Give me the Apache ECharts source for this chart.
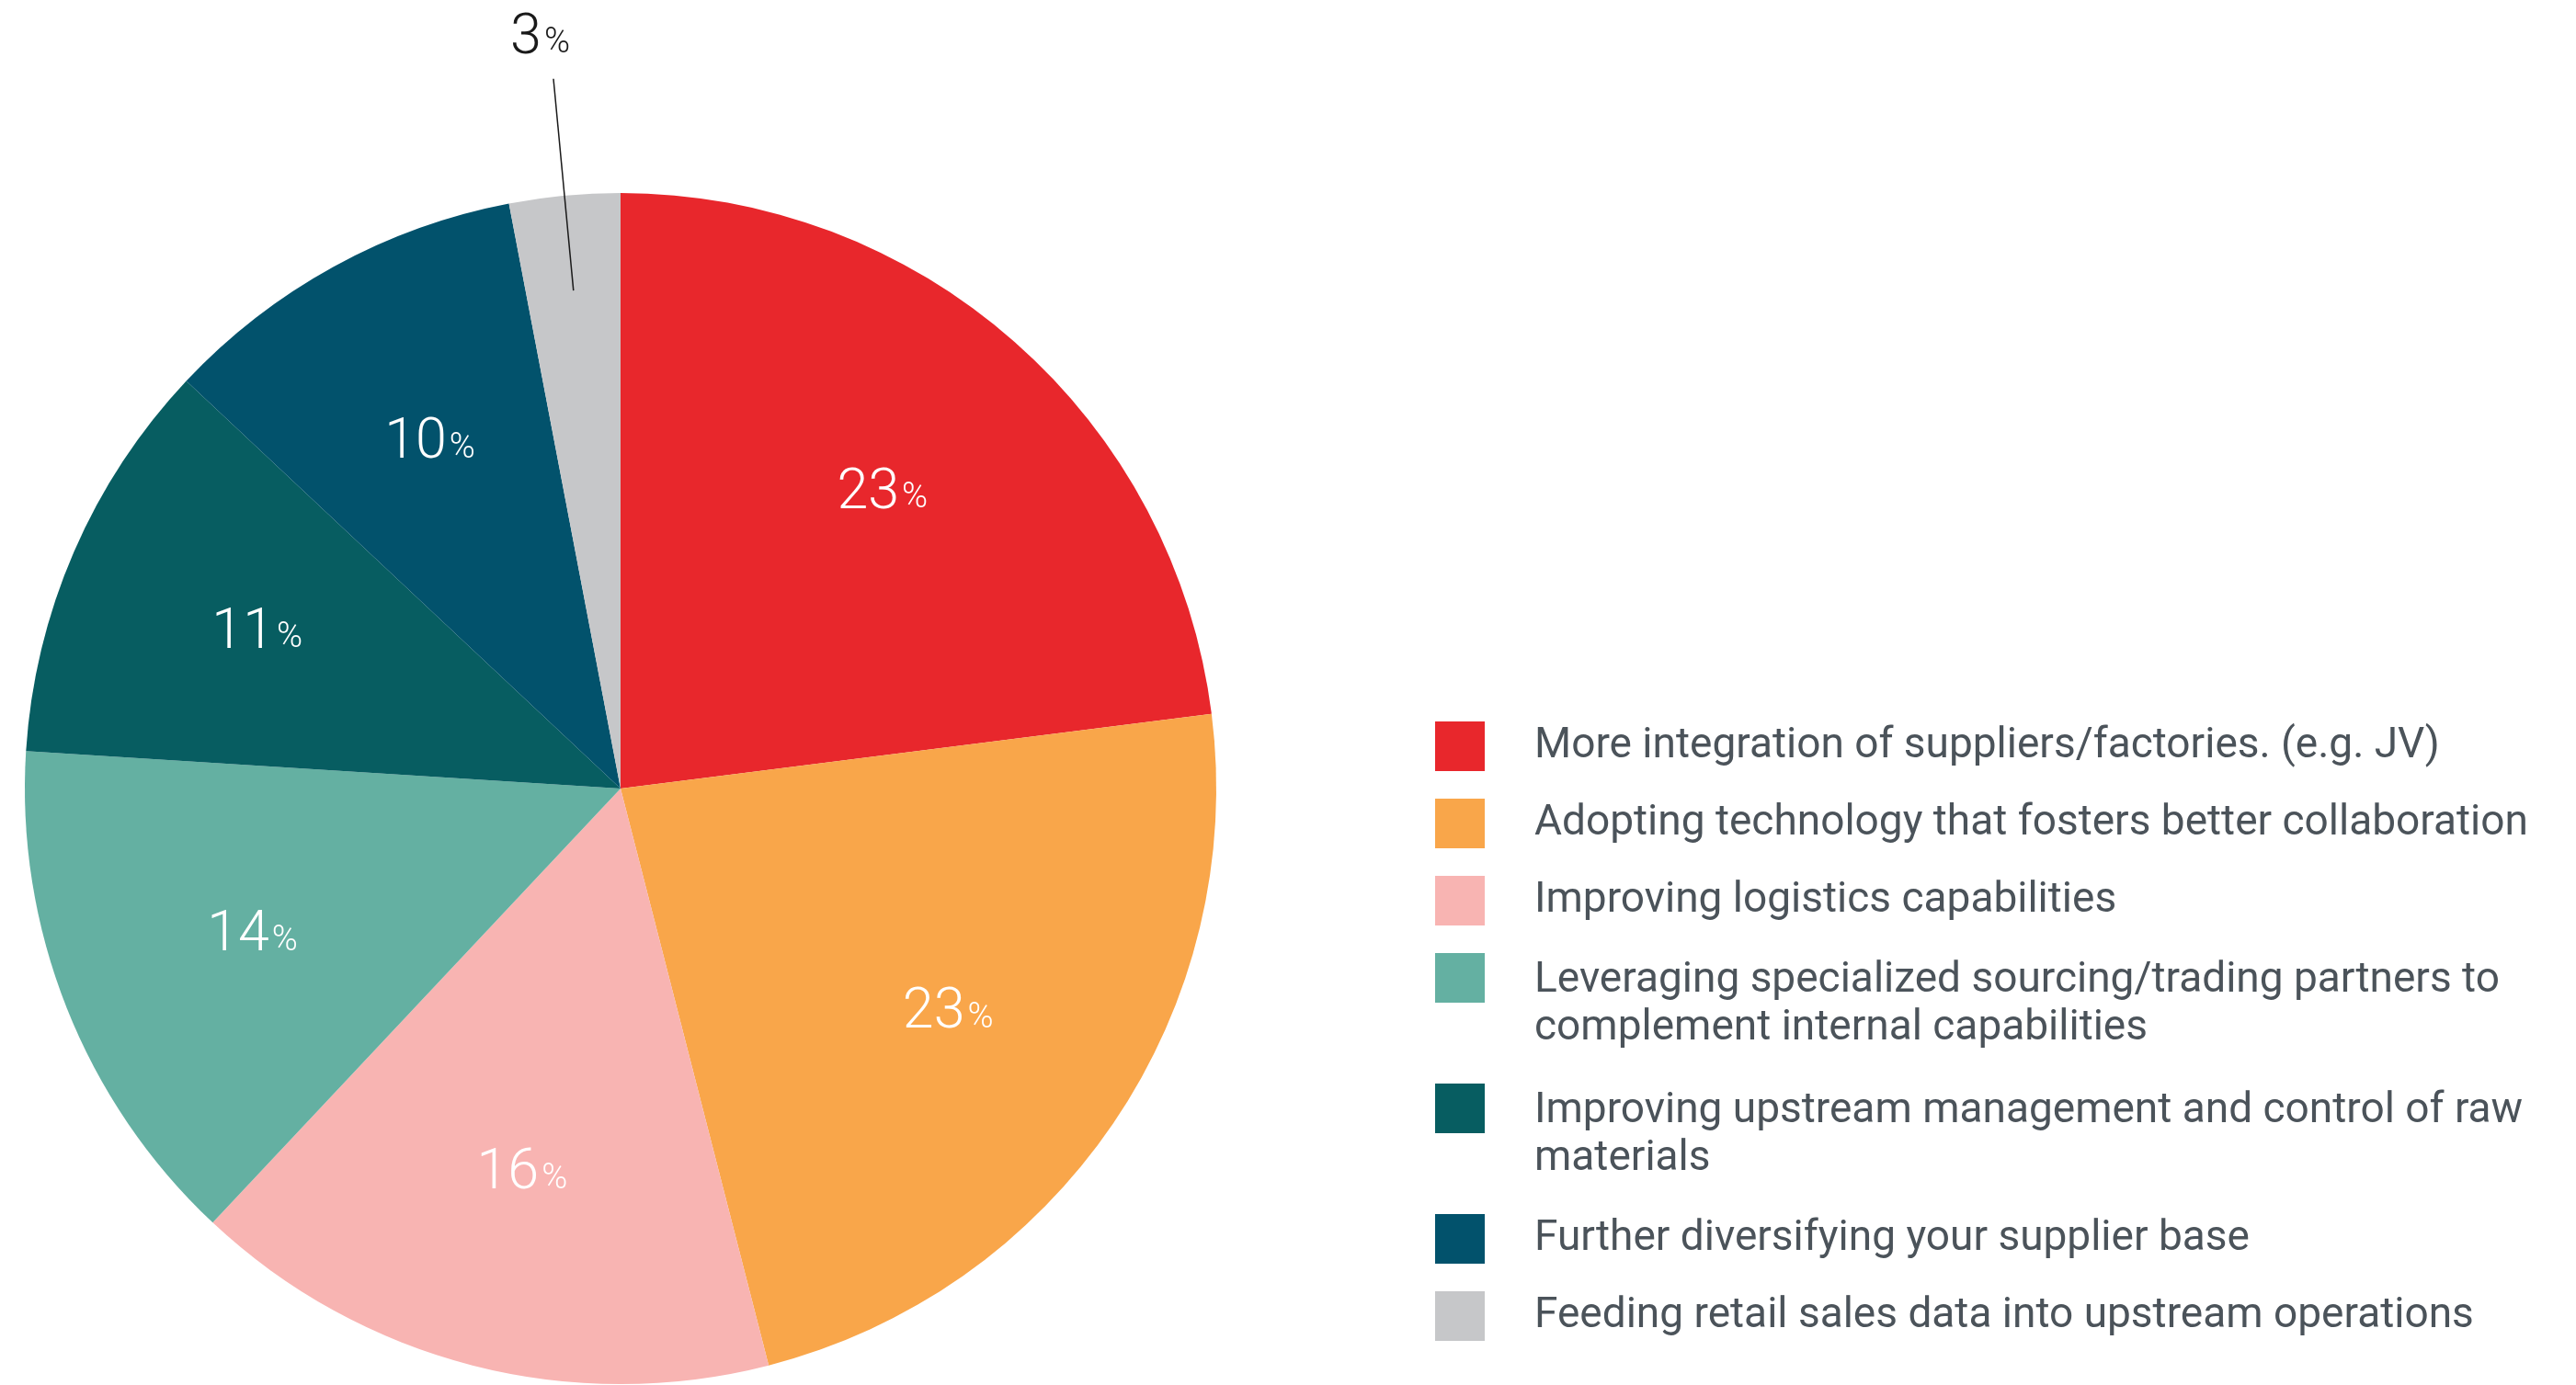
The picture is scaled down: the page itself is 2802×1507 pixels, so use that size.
<!DOCTYPE html>
<html>
<head>
<meta charset="utf-8">
<script src="https://cdn.jsdelivr.net/npm/echarts@6/dist/echarts.min.js"></script>
<style>
  html, body { margin: 0; padding: 0; background: #ffffff; }
  #chart { width: 2802px; height: 1507px; }
</style>
</head>
<body>
<div id="chart"></div>
<script>
// Survey answers (share of respondents, %)
const categories = [
  'More integration of suppliers/factories. (e.g. JV)',
  'Adopting technology that fosters better collaboration',
  'Improving logistics capabilities',
  'Leveraging specialized sourcing/trading partners to\ncomplement internal capabilities',
  'Improving upstream management and control of raw\nmaterials',
  'Further diversifying your supplier base',
  'Feeding retail sales data into upstream operations'
];
const values = [23, 23, 16, 14, 11, 10, 3];
const colors = ['#E8272C', '#F9A64A', '#F8B4B2', '#64B0A2', '#075D61', '#02526C', '#C6C7C9'];

// Slices smaller than this get their label outside, on a leader line
const SMALL_SLICE = 5;

// Geometry
const CENTER = [675, 858];
const R = 648;
const FONT = 'Roboto, "Liberation Sans", Arial, sans-serif';
const NONE = 'rgba(0,0,0,0)';

const pieData = values.map((v, i) => ({ name: categories[i], value: v }));

const pctRich = (color) => ({
  n: { fontSize: 61, fontWeight: 300, color, fontFamily: FONT, lineHeight: 66, verticalAlign: 'bottom' },
  p: { fontSize: 38, fontWeight: 300, color, fontFamily: FONT, lineHeight: 66, verticalAlign: 'bottom', padding: [0, 0, 6, 3] }
});

const chart = echarts.init(document.getElementById('chart'), null, { renderer: 'canvas' });

chart.setOption({
  animation: false,
  color: colors,
  legend: {
    orient: 'vertical',
    left: 1561,
    top: 785,
    padding: 0,
    itemGap: 30,
    itemWidth: 54,
    itemHeight: 112,
    symbolKeepAspect: true,
    selectedMode: false,
    textStyle: {
      fontSize: 46,
      color: '#4B535A',
      fontFamily: FONT,
      lineHeight: 52,
      padding: [0, 0, 0, 49]
    },
    data: categories.map(name => ({
      name,
      // square swatch sits beside the first text line
      icon: name.indexOf('\n') >= 0 ? 'path://M0,0H54V54H0ZM0,112L0,112.01' : 'path://M0,0H54V54H0Z'
    }))
  },
  series: [
    {
      // the pie itself
      type: 'pie',
      z: 2,
      center: CENTER,
      radius: [0, R],
      startAngle: 90,
      clockwise: true,
      silent: true,
      avoidLabelOverlap: false,
      itemStyle: { borderWidth: 0 },
      label: { show: false },
      labelLine: { show: false },
      emphasis: { disabled: true },
      data: pieData
    },
    {
      // in-slice value labels
      type: 'pie',
      z: 3,
      center: CENTER,
      radius: [0, R * 1.32],
      startAngle: 90,
      clockwise: true,
      silent: true,
      avoidLabelOverlap: false,
      itemStyle: { color: NONE, borderWidth: 0 },
      labelLine: { show: false },
      emphasis: { disabled: true },
      label: {
        show: true,
        position: 'inside',
        formatter: p => (p.value >= SMALL_SLICE ? '{n|' + p.value + '}{p|%}' : ''),
        rich: pctRich('#ffffff')
      },
      data: pieData
    },
    {
      // leader-line label for the thin slice
      type: 'pie',
      z: 4,
      center: CENTER,
      radius: [0, R * 0.84],
      startAngle: 90,
      clockwise: true,
      silent: true,
      avoidLabelOverlap: false,
      itemStyle: { color: NONE, borderWidth: 0 },
      emphasis: { disabled: true },
      label: {
        show: true,
        position: 'outside',
        distanceToLabelLine: -18,
        padding: [0, 0, 92, 0],
        formatter: p => (p.value < SMALL_SLICE ? '{n|' + p.value + '}{p|%}' : ''),
        rich: pctRich('#1a1a1a')
      },
      labelLine: {
        show: true,
        length: R * 0.357,
        length2: 0,
        lineStyle: { color: '#1a1a1a', width: 1.5 }
      },
      data: values.map((v, i) => ({
        name: categories[i],
        value: v,
        label: { show: v < SMALL_SLICE },
        labelLine: { show: v < SMALL_SLICE }
      }))
    }
  ]
});
</script>
</body>
</html>
